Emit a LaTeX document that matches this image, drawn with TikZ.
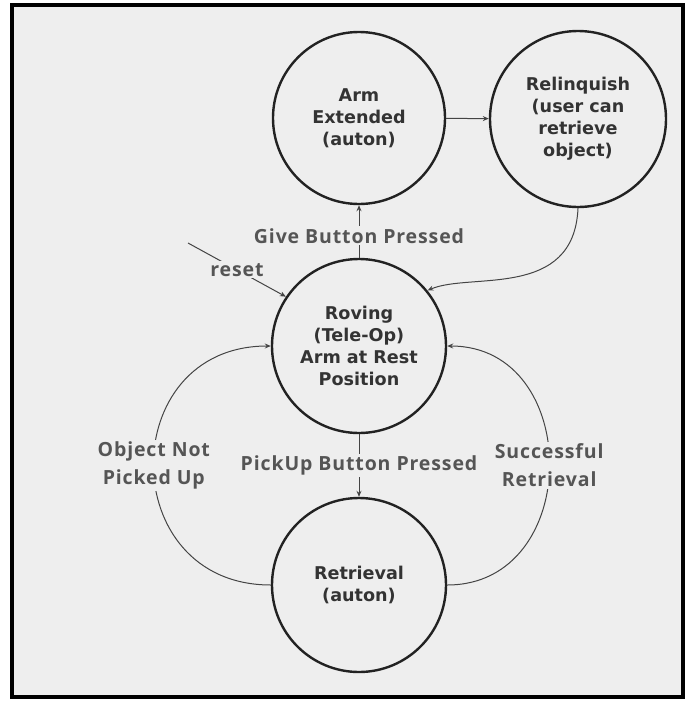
\documentclass[tikz,border=0pt]{standalone}
\usepackage{fontspec}
\setmainfont{DejaVu Sans}
\newfontfamily\statefont{DejaVu Sans}
\newfontfamily\edgefont[LetterSpace=4.5]{Open Sans}
\usetikzlibrary{arrows.meta}
\definecolor{paper}{HTML}{EEEEEE}
\definecolor{ink}{HTML}{222222}
\definecolor{txt}{HTML}{333333}
\definecolor{lbltxt}{HTML}{555555}
\definecolor{wire}{HTML}{444444}
\begin{document}
\begin{tikzpicture}[x=1pt,y=-1pt,
  state/.style={circle, draw=ink, line width=2.4pt, minimum size=174pt,
    inner sep=0pt, align=center, text=txt,
    font=\statefont\bfseries\fontsize{17.6}{22}\selectfont},
  link/.style={draw=wire, line width=1pt, -{Stealth[length=6pt,width=5pt]}},
  lbl/.style={fill=paper, inner sep=2pt, align=center, text=lbltxt,
    font=\edgefont\bfseries\fontsize{19.5}{28}\selectfont}]
% page and framed panel
\fill[white] (0,0) rectangle (694,702);
\draw[line width=4pt, fill=paper] (12,5) rectangle (683,697);
\useasboundingbox (0,0) rectangle (694,702);

% states
\node[state, minimum size=172pt] (arm) at (359,118) {Arm\\Extended\\(auton)};
\node[state, minimum size=176pt] (rel) at (578,119) {Relinquish\\(user can\\retrieve\\object)};
\node[state] (rov) at (359,346) {Roving\\(Tele-Op)\\Arm at Rest\\Position};
\node[state] (ret) at (359,585) {Retrieval\\(auton)};

% transitions
\coordinate (rs) at (188,243);
\draw[link] (rs) -- node[lbl, pos=0.5] {reset} (rov.146);
\draw[link] (rov) -- node[lbl, pos=0.42] {Give Button Pressed} (arm);
\draw[link] (arm) -- (rel);
\draw[link] (rel.south) .. controls (574,300) and (470,272) .. (rov.39);
\draw[link] (rov) -- node[lbl] {PickUp Button Pressed} (ret);
\draw[link] (ret.west) .. controls +(-156,0) and +(-156,0) .. node[lbl, pos=0.5] {Object Not\\Picked Up} (rov.west);
\draw[link] (ret.east) .. controls +(136,0) and +(136,0) .. node[lbl, pos=0.5] {Successful\\Retrieval} (rov.east);
\end{tikzpicture}
\end{document}
